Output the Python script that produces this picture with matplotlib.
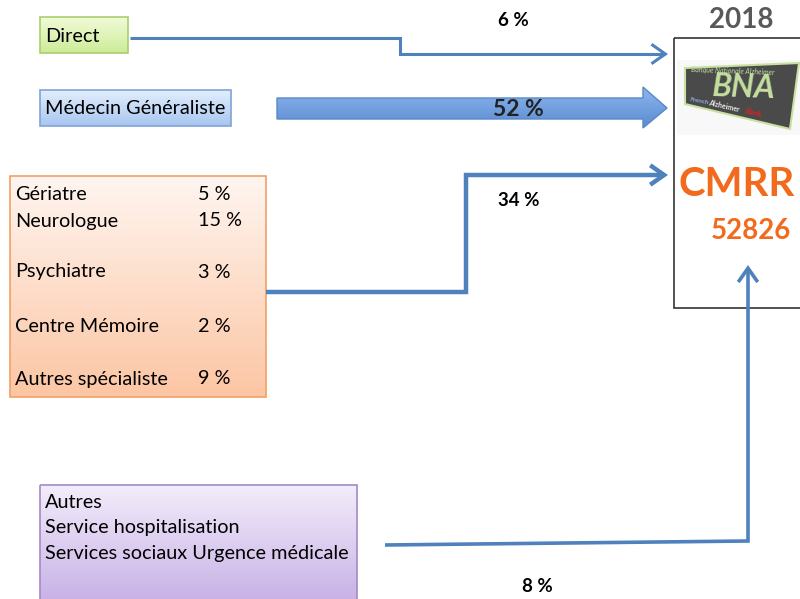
import numpy as np
import matplotlib
matplotlib.use("Agg")
import matplotlib.pyplot as plt
from matplotlib.patches import Rectangle, Polygon, FancyArrowPatch
from matplotlib.path import Path
from matplotlib.colors import LinearSegmentedColormap

plt.rcParams['font.family'] = ['Lato', 'DejaVu Sans']

# data
year = "2018"
centre = "CMRR"
total = "52826"
flow_labels = ["Direct", "Médecin Généraliste", "Spécialistes", "Autres"]
flow_pcts = [6, 52, 34, 8]
spec_labels = ["Gériatre", "Neurologue", "Psychiatre", "Centre Mémoire", "Autres spécialiste"]
spec_pcts = [5, 15, 3, 2, 9]
other_labels = ["Autres", "Service hospitalisation", "Services sociaux Urgence médicale"]

BLUE = "#4f81bd"
FS = 14.3

fig = plt.figure(figsize=(8, 5.99), dpi=100)
ax = fig.add_axes([0, 0, 1, 1])
ax.set_xlim(0, 800)
ax.set_ylim(599, 0)
ax.axis("off")


def grad_box(x0, y0, x1, y1, c_top, c_bot, edge):
    cmap = LinearSegmentedColormap.from_list("g", [c_top, c_bot])
    g = np.linspace(0, 1, 100).reshape(-1, 1)
    ax.imshow(g, cmap=cmap, extent=(x0, x1, y1, y0), aspect="auto", zorder=1)
    ax.add_patch(Rectangle((x0, y0), x1 - x0, y1 - y0, fill=False, ec=edge, lw=1.2, zorder=2))


def line_arrow(pts, lw):
    p = Path(pts)
    a = FancyArrowPatch(path=p, arrowstyle="->,head_length=10,head_width=7",
                        mutation_scale=1, color=BLUE, lw=lw, zorder=3,
                        joinstyle="miter", capstyle="butt")
    ax.add_patch(a)


# Direct
grad_box(40, 17, 128, 53, "#f1fbd9", "#cdec98", "#a9cf6c")
ax.text(45, 36, flow_labels[0], fontsize=FS, va="center", ha="left")
line_arrow([(130, 38), (400, 38), (400, 54), (668, 54)], 2.2)
ax.text(513, 20, f"{flow_pcts[0]} %", fontsize=13.5, fontweight="bold", ha="center", va="center")

# Medecin generaliste
grad_box(40, 90, 231, 126, "#e3eefc", "#a8c6f0", "#7fa4d6")
ax.text(45, 109, flow_labels[1], fontsize=FS, va="center", ha="left")
cm_arr = LinearSegmentedColormap.from_list("a", ["#8db6ee", "#5a8bd0"])
arr = Polygon([(277, 98), (643, 98), (643, 87), (667, 108), (643, 128), (643, 119), (277, 119)],
              closed=True, fc="none", ec="#5a88c8", lw=1, zorder=4)
ax.add_patch(arr)
im = ax.imshow(np.linspace(0, 1, 100).reshape(-1, 1), cmap=cm_arr,
               extent=(277, 668, 128, 87), aspect="auto", zorder=3)
im.set_clip_path(arr)
ax.text(518, 110, f"{flow_pcts[1]} %", fontsize=16.5, fontweight="bold", ha="center", va="center",
        color="#222222", zorder=5)

# Specialistes
grad_box(10, 176, 266, 397, "#fff5f0", "#fcc6a4", "#f2a066")
spec_y = [195, 221, 272, 326, 379]
for lab, pct, y in zip(spec_labels, spec_pcts, spec_y):
    ax.text(15, y, lab, fontsize=FS, va="center", ha="left", zorder=3)
    ax.text(198, y, f"{pct} %", fontsize=FS, va="center", ha="left", zorder=3)
line_arrow([(266, 292), (466, 292), (466, 175), (668, 175)], 3.2)
ax.text(519, 200, f"{flow_pcts[2]} %", fontsize=13.5, fontweight="bold", ha="center", va="center")

# Autres
grad_box(40, 485, 357, 605, "#f3ecfa", "#c6b0e6", "#a48ac6")
for i, lab in enumerate(other_labels):
    ax.text(45, 502 + 26 * i, lab, fontsize=FS, va="center", ha="left", zorder=3)
line_arrow([(385, 545), (748, 541), (748, 265)], 2.6)
ax.text(537, 587, f"{flow_pcts[3]} %", fontsize=13.5, fontweight="bold", ha="center", va="center")

# CMRR box
ax.add_patch(Rectangle((674, 38), 140, 270, fill=False, ec="#333333", lw=1.2, zorder=2))
ax.text(741, 20, year, fontsize=20, fontweight="bold", color="#595959", ha="center", va="center")
ax.add_patch(Rectangle((677, 60), 123, 75, fc="#f8f8f8", ec="none", zorder=2))
logo = Polygon([(685, 68), (799, 63), (790, 129), (685, 104)], closed=True,
               fc="#4a4a4a", ec="#c8e0a0", lw=1.5, zorder=3)
ax.add_patch(logo)
ax.text(744, 88, "BNA", fontsize=23, fontweight="bold", fontstyle="italic", color="#c3dfa0",
        ha="center", va="center", rotation=-2, zorder=4)
ax.text(733, 71, "Banque Nationale Alzheimer", fontsize=5, fontstyle="italic", color="#c3dfa0",
        ha="center", va="center", rotation=-2, zorder=4)
ax.text(699, 101, "French", fontsize=4.5, fontweight="bold", color="#8fb0e0",
        ha="center", va="center", rotation=-10, zorder=4)
ax.text(724, 106, "Alzheimer", fontsize=5, fontweight="bold", color="#e8e8e8",
        ha="center", va="center", rotation=-13, zorder=4)
ax.text(753, 113, "Bank", fontsize=5.5, fontweight="bold", color="#e02020",
        ha="center", va="center", rotation=-15, zorder=4)
ax.text(737, 185, centre, fontsize=29, fontweight="bold", color="#f26b1d", ha="center", va="center")
ax.text(751, 231, total, fontsize=20, fontweight="bold", color="#f26b1d", ha="center", va="center")

fig.savefig("out.png", dpi=100)
